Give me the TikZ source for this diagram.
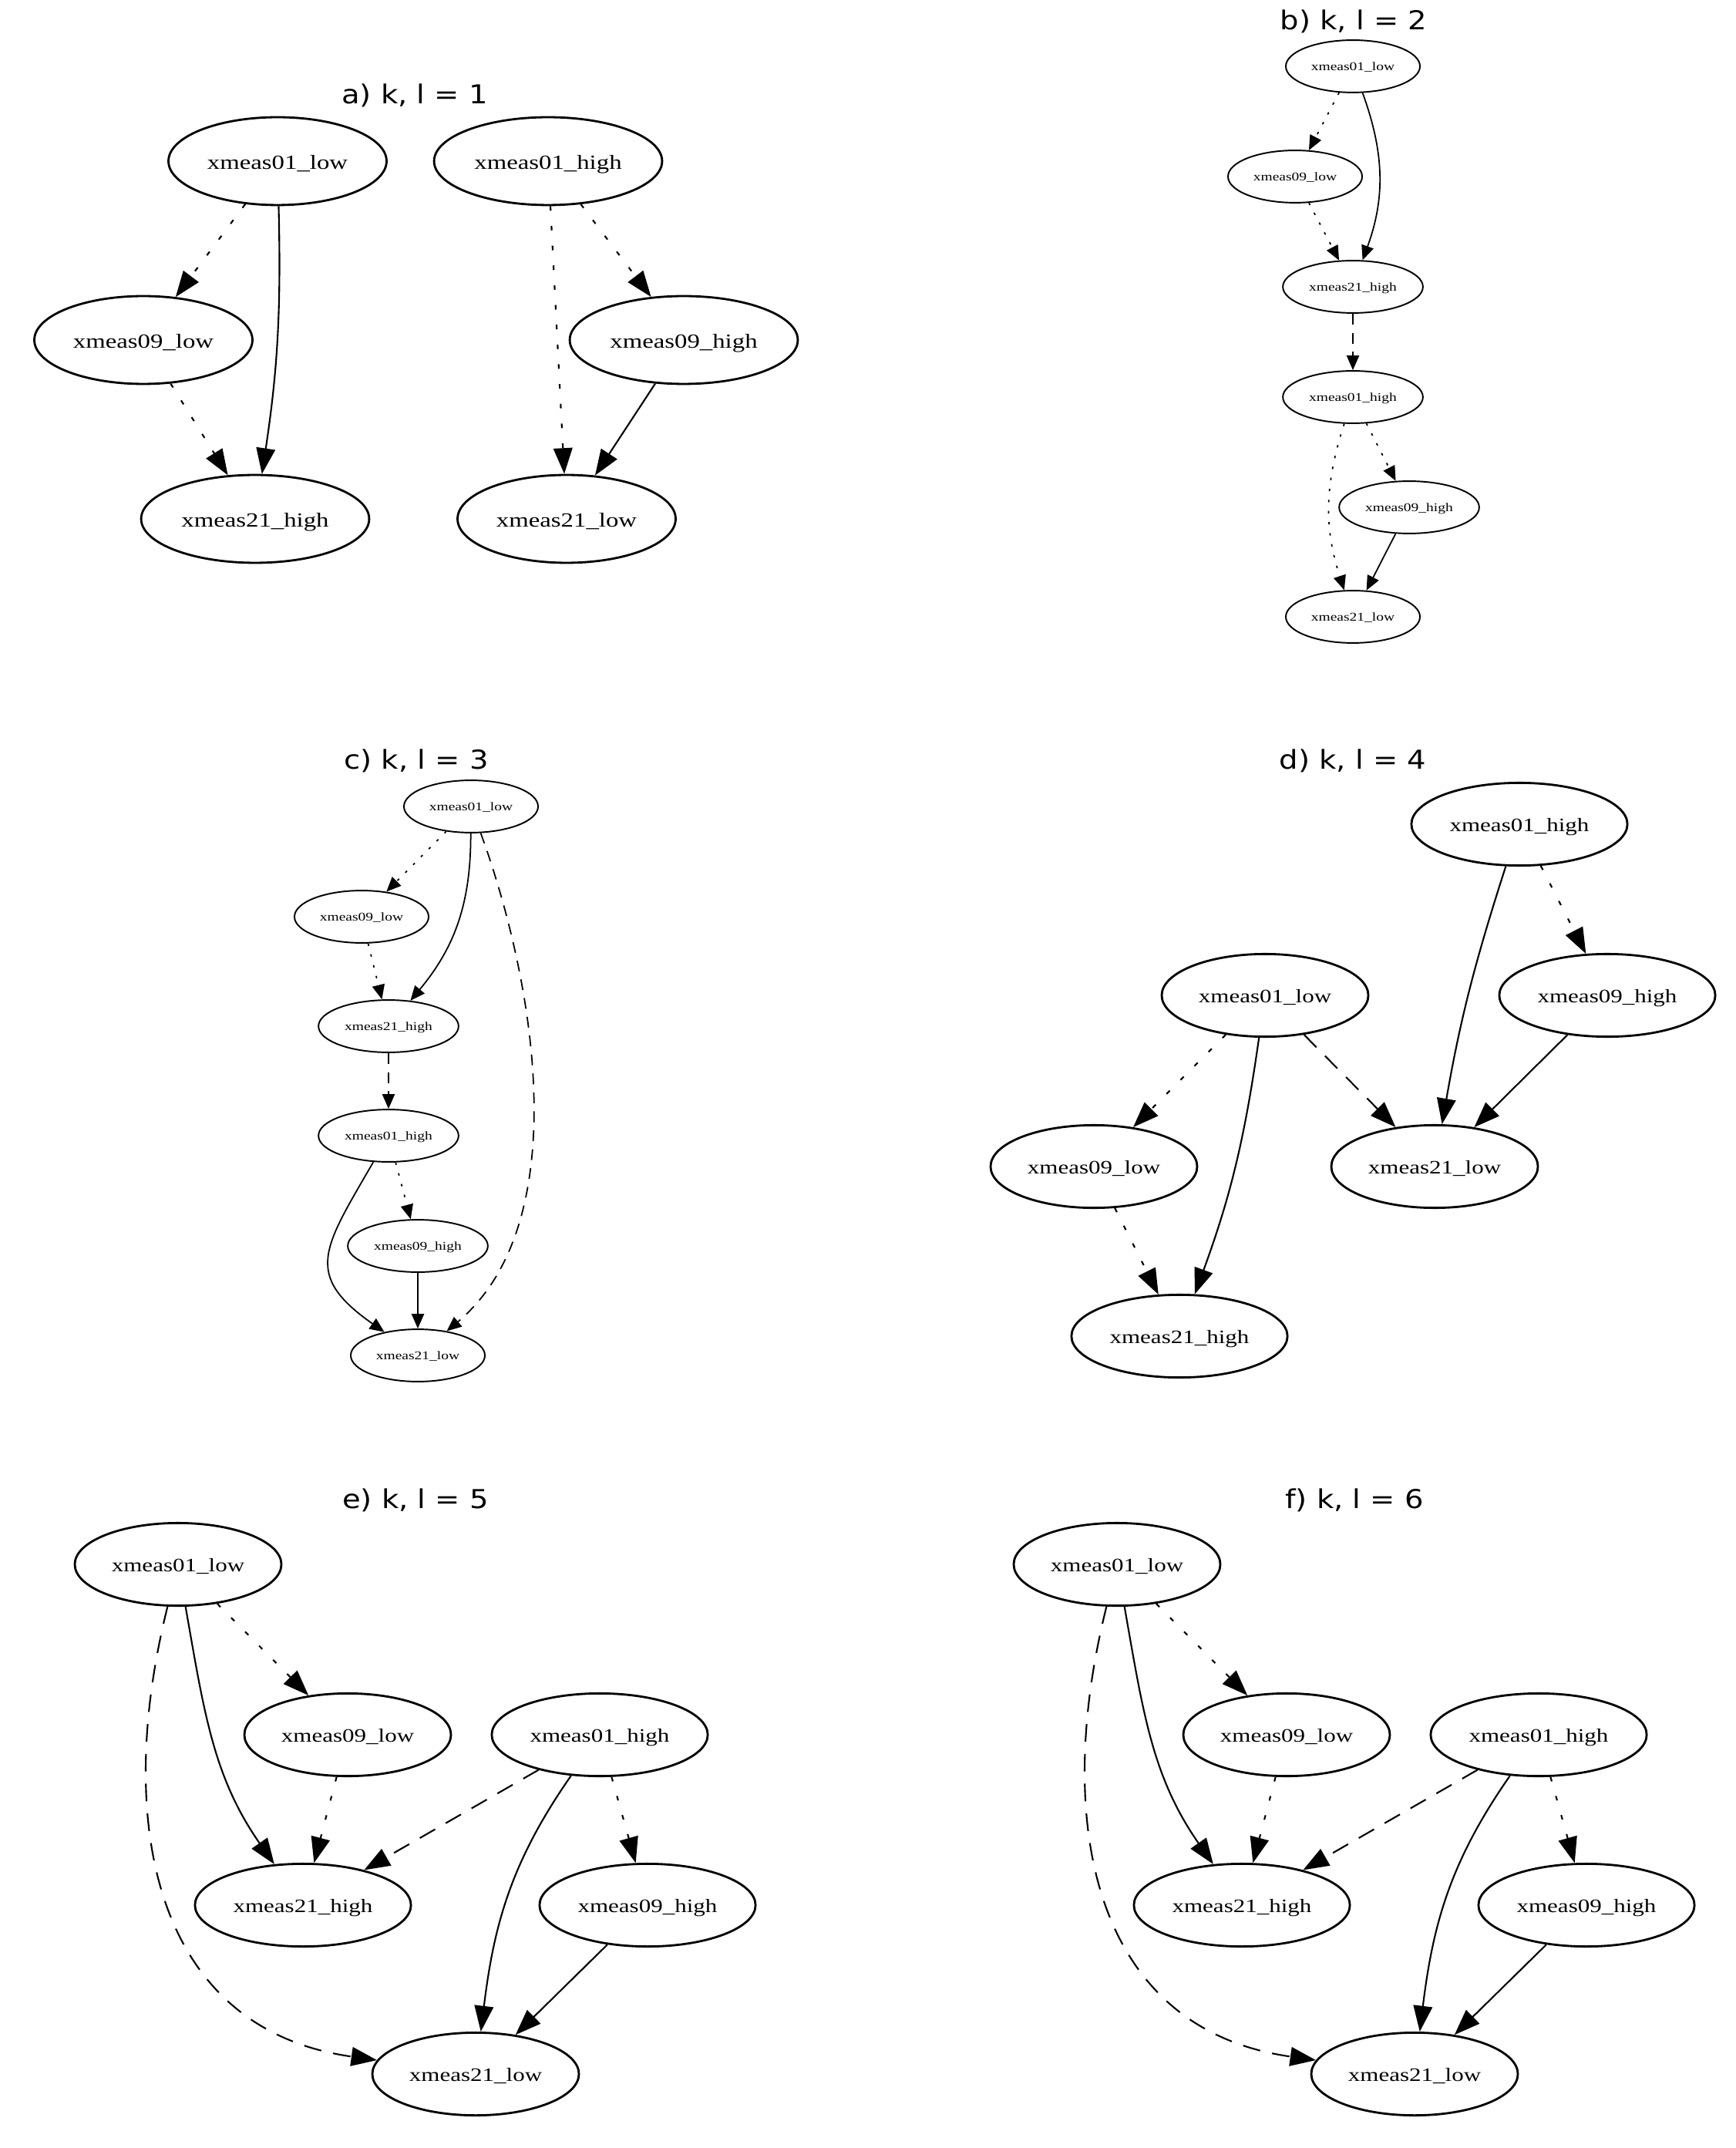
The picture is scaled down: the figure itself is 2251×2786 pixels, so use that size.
\documentclass[tikz,border=0pt]{standalone}
\usepackage{fontspec}
\usepackage{tikz}
\usetikzlibrary{arrows.meta,shapes.geometric}
\newfontfamily\nodefont[FakeStretch=1.26]{Liberation Serif}
\newfontfamily\titlefont[FakeStretch=1.14]{DejaVu Sans}

\begin{document}
\begin{tikzpicture}[x=0.01cm,y=0.01cm]
	\tikzstyle{bvar}=[ellipse,draw,line width=0.8pt,inner xsep=2.45pt,inner ysep=1pt,minimum height=30.5pt,text height=5.4pt,text depth=0pt,font=\nodefont\fontsize{7}{9}\selectfont]
	\tikzstyle{avar}=[bvar,inner xsep=2.55pt,minimum height=32.4pt,text height=5.7pt,font=\nodefont\fontsize{7.4}{9}\selectfont]
	\tikzstyle{svar}=[ellipse,draw,line width=0.55pt,inner xsep=2.1pt,inner ysep=1pt,minimum height=19.3pt,text height=3.2pt,text depth=0pt,font=\nodefont\fontsize{4.4}{5}\selectfont]
	\tikzstyle{paneltitle}=[anchor=base,font=\titlefont\fontsize{9.6}{11}\selectfont]
	\tikzstyle{bedge}=[-{Triangle[length=9.5pt,width=7pt]},line width=0.6pt]
	\tikzstyle{bdot}=[bedge,dash pattern=on 1.7pt off 5.6pt]
	\tikzstyle{bdash}=[bedge,dash pattern=on 6.5pt off 4.5pt]
	\tikzstyle{sedge}=[-{Triangle[length=5.4pt,width=4.6pt]},line width=0.5pt]
	\tikzstyle{sdot}=[sedge,dash pattern=on 0.9pt off 3.2pt]
	\tikzstyle{sdash}=[sedge,dash pattern=on 4pt off 3pt]

	\useasboundingbox (0,0) rectangle (2251,-2786);

	% a) k, l = 1
	\node[paneltitle] (ta) at (538,-135) {a) k, l = 1};
	\node[avar] (a01l) at (360,-209) {xmeas01\_low};
	\node[avar] (a01h) at (711,-209) {xmeas01\_high};
	\node[avar] (a09l) at (186,-441) {xmeas09\_low};
	\node[avar] (a09h) at (887,-441) {xmeas09\_high};
	\node[avar] (a21h) at (331,-673) {xmeas21\_high};
	\node[avar] (a21l) at (735,-673) {xmeas21\_low};

	\path (a01l) edge [bdot] (a09l)
	      (a01l) edge [bedge,bend left=5] (a21h)
	      (a09l) edge [bdot] (a21h)
	      (a01h) edge [bdot] (a21l)
	      (a01h) edge [bdot] (a09h)
	      (a09h) edge [bedge] (a21l);

	% b) k, l = 2
	\node[paneltitle] (tb) at (1756,-39) {b) k, l = 2};
	\node[svar] (b01l) at (1755,-86) {xmeas01\_low};
	\node[svar] (b09l) at (1680,-229) {xmeas09\_low};
	\node[svar] (b21h) at (1755,-372) {xmeas21\_high};
	\node[svar] (b01h) at (1755,-515) {xmeas01\_high};
	\node[svar] (b09h) at (1828,-658) {xmeas09\_high};
	\node[svar] (b21l) at (1755,-800) {xmeas21\_low};

	\path (b01l) edge [sdot] (b09l)
	      (b01l) edge [sedge,bend left=20] (b21h)
	      (b09l) edge [sdot] (b21h)
	      (b21h) edge [sdash] (b01h)
	      (b01h) edge [sdot] (b09h)
	      (b01h) edge [sdot,bend right=18] (b21l)
	      (b09h) edge [sedge] (b21l);

	% c) k, l = 3
	\node[paneltitle] (tc) at (540,-997) {c) k, l = 3};
	\node[svar] (c01l) at (611,-1046) {xmeas01\_low};
	\node[svar] (c09l) at (469,-1189) {xmeas09\_low};
	\node[svar] (c21h) at (504,-1331) {xmeas21\_high};
	\node[svar] (c01h) at (504,-1473) {xmeas01\_high};
	\node[svar] (c09h) at (542,-1616) {xmeas09\_high};
	\node[svar] (c21l) at (542,-1758) {xmeas21\_low};

	\path (c01l) edge [sdot] (c09l)
	      (c01l) edge [sedge,bend left=20] (c21h)
	      (c01l) edge [sdash,out=-70,in=40,looseness=0.85] (c21l)
	      (c09l) edge [sdot] (c21h)
	      (c21h) edge [sdash] (c01h)
	      (c01h) edge [sdot] (c09h)
	      (c01h) edge [sedge,out=-120,in=145,looseness=1.5] (c21l)
	      (c09h) edge [sedge] (c21l);

	% d) k, l = 4
	\node[paneltitle] (td) at (1755,-997) {d) k, l = 4};
	\node[bvar] (d01h) at (1971,-1069) {xmeas01\_high};
	\node[bvar] (d01l) at (1641,-1291) {xmeas01\_low};
	\node[bvar] (d09h) at (2085,-1291) {xmeas09\_high};
	\node[bvar] (d09l) at (1419,-1513) {xmeas09\_low};
	\node[bvar] (d21l) at (1861,-1513) {xmeas21\_low};
	\node[bvar] (d21h) at (1530,-1733) {xmeas21\_high};

	\path (d01h) edge [bedge,bend right=4] (d21l)
	      (d01h) edge [bdot] (d09h)
	      (d09h) edge [bedge] (d21l)
	      (d01l) edge [bdot] (d09l)
	      (d01l) edge [bdash] (d21l)
	      (d01l) edge [bedge,bend left=6] (d21h)
	      (d09l) edge [bdot] (d21h);

	% e) k, l = 5 and f) k, l = 6 have the same graph
	\foreach \p/\dx/\k in {e/0/5,f/1218/6}{
	\begin{scope}[shift={(\dx,0)}]
	\node[paneltitle] (t\p) at (539,-1956) {\p) k, l = \k};
	\node[bvar] (\p01l) at (231,-2029) {xmeas01\_low};
	\node[bvar] (\p09l) at (451,-2250) {xmeas09\_low};
	\node[bvar] (\p01h) at (778,-2250) {xmeas01\_high};
	\node[bvar] (\p21h) at (393,-2471) {xmeas21\_high};
	\node[bvar] (\p09h) at (840,-2471) {xmeas09\_high};
	\node[bvar] (\p21l) at (617,-2690) {xmeas21\_low};

	\path (\p01l) edge [bdot] (\p09l)
	      (\p01l) edge [bedge,out=-80,in=125] (\p21h)
	      (\p01l) edge [bdash,out=-104,in=172,looseness=1.15] (\p21l)
	      (\p09l) edge [bdot] (\p21h)
	      (\p01h) edge [bdash] (\p21h)
	      (\p01h) edge [bedge,out=-125,in=83] (\p21l)
	      (\p01h) edge [bdot] (\p09h)
	      (\p09h) edge [bedge] (\p21l);
	\end{scope}
	}
\end{tikzpicture}
\end{document}
